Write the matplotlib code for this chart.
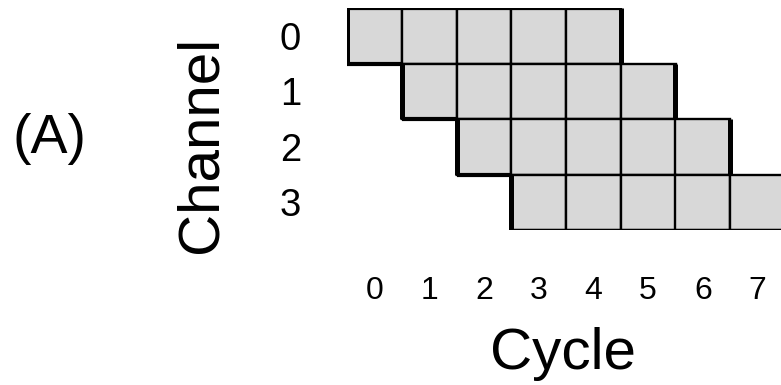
import matplotlib
matplotlib.use("Agg")
import matplotlib.pyplot as plt

plt.rcParams['font.family'] = ['Liberation Sans', 'DejaVu Sans']

channels = [0, 1, 2, 3]
start_cycles = [0, 1, 2, 3]
busy_cycles = [5, 5, 5, 5]
cycle_labels = ['0', '1', '2', '3', '4', '5', '6', '7']
channel_labels = ['0', '1', '2', '3']

W, H = 781, 385
fig = plt.figure(figsize=(W / 100, H / 100), dpi=100)
ax = fig.add_axes([347 / W, (H - 230) / H, 438 / W, 222 / H])

fill = '#d8d8d8'
for ch, s, n in zip(channels, start_cycles, busy_cycles):
    # individual cells
    ax.barh([ch] * n, [1] * n, left=list(range(s, s + n)), height=1,
            align='edge', color=fill, edgecolor='black', linewidth=1.7, zorder=2)

# outer top / bottom edges (medium)
ax.hlines([channels[0]], start_cycles[0], start_cycles[0] + busy_cycles[0],
          color='black', linewidth=2.3, zorder=3)
ax.hlines([channels[-1] + 1], start_cycles[-1], start_cycles[-1] + busy_cycles[-1],
          color='black', linewidth=2.3, zorder=3)
# thick "shadow" edges: left side, bottom of first cell, right side of each row
for ch, s, n in zip(channels, start_cycles, busy_cycles):
    ax.vlines(s, ch, ch + 1, color='black', linewidth=3.6, zorder=4)
    ax.vlines(s + n, ch, ch + 1, color='black', linewidth=3.6, zorder=4)
    if ch < channels[-1]:
        ax.hlines(ch + 1, s, s + 1, color='black', linewidth=3.0, zorder=4)

ax.set_xlim(0, 8)
ax.set_ylim(4, 0)
ax.set_xticks([i + 0.5 for i in range(len(cycle_labels))])
ax.set_xticklabels(cycle_labels, fontsize=23)
ax.set_yticks([c + 0.5 for c in range(len(channel_labels))])
ax.set_yticklabels(channel_labels, fontsize=27.5)
ax.tick_params(axis='x', length=0, pad=33)
ax.tick_params(axis='y', length=0, pad=33)
for sp in ax.spines.values():
    sp.set_visible(False)

fig.text(563 / W, 1 - 354 / H, 'Cycle', fontsize=42, ha='center', va='center')
fig.text(201 / W, 1 - 144.5 / H, 'Channel', fontsize=42, ha='center', va='center',
         rotation=90)
fig.text(49 / W, 1 - 139 / H, '(A)', fontsize=40, ha='center', va='center')

fig.savefig('out.png', dpi=100)
